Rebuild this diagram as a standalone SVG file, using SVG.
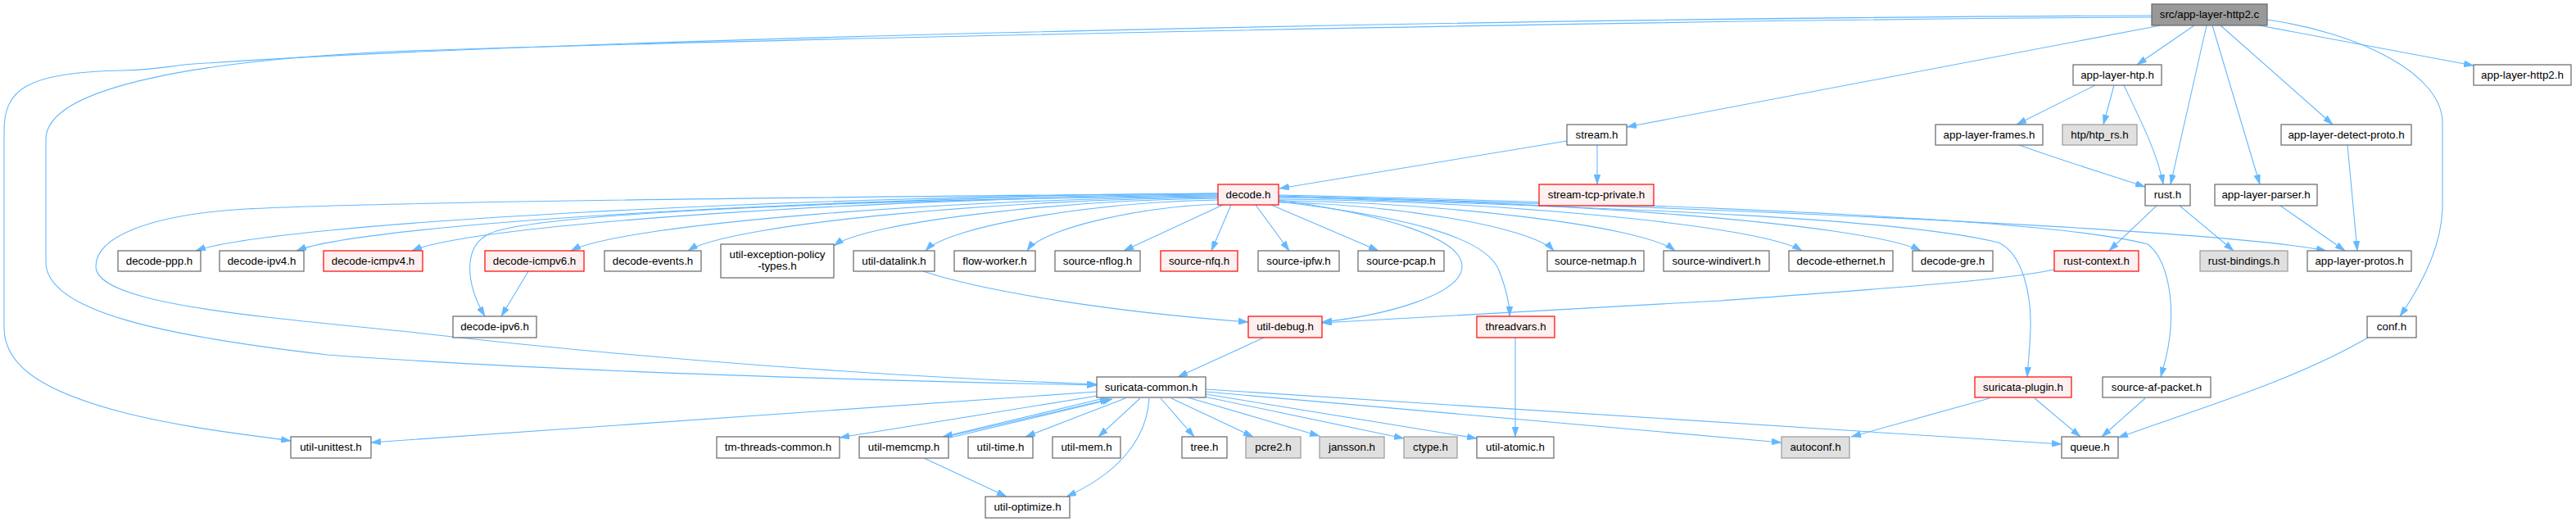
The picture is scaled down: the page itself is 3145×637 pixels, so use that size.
<svg xmlns="http://www.w3.org/2000/svg" width="3145" height="637" viewBox="0 0 3145 637">
<style>
.n rect{fill:#ffffff;stroke:#666666;stroke-width:1.2}
.g rect{fill:#e0e0e0;stroke:#999999;stroke-width:1.2}
.r rect{fill:#fff0f0;stroke:#ff0000;stroke-width:1.2}
.root rect{fill:#999999;stroke:#666666;stroke-width:1.2}
text{font-family:"Liberation Sans",Arial,sans-serif;font-size:13.33px;text-anchor:middle;fill:#000000}
#edges path{fill:none;stroke:#63b8ff;stroke-width:1.1;marker-end:url(#a)}
</style>
<defs>
<marker id="a" markerUnits="userSpaceOnUse" markerWidth="12" markerHeight="8" refX="12" refY="4" orient="auto" viewBox="0 0 12 8">
<path d="M0,0 L12,4 L0,8 z" fill="#63b8ff" stroke="#63b8ff" stroke-width="0.5"/>
</marker>
</defs>
<rect x="0" y="0" width="3145" height="637" fill="#ffffff"/>
<g id="edges">
<path d="M2627,19 C1900,22 700,45 224,79 C200,82 190,85 150,86 C30,88 5,110 5,160 L5,400 C5,450 60,480 153,504 C230,523 300,530 355,538"/>
<path d="M2627,21 C1900,25 800,52 500,62 C250,72 56,105 56,170 L56,320 C56,380 200,410 400,433 C700,455 1100,465 1339,470"/>
<path d="M2638,31 L1986,155"/>
<path d="M2679,31 L2609,79"/>
<path d="M2694,31 L2650,225"/>
<path d="M2701,31 L2759,225"/>
<path d="M2711,31 L2848,152"/>
<path d="M2758,31 L3020,80"/>
<path d="M2768,24 C2880,40 2982,90 2982,150 L2982,250 C2982,300 2955,350 2930,386"/>
<path d="M1913,172 L1562,230"/>
<path d="M1950,177 L1950,225"/>
<path d="M2558,104 L2462,152"/>
<path d="M2581,104 L2568,152"/>
<path d="M2593,104 C2615,150 2635,190 2641,225"/>
<path d="M2465,177 C2530,200 2580,215 2619,228"/>
<path d="M2866,177 L2878,306"/>
<path d="M2784,251 L2863,306"/>
<path d="M2633,251 L2575,306"/>
<path d="M2661,251 L2727,306"/>
<path d="M2508,329 C2440,343 2300,352 2100,367 L1614,394"/>
<path d="M1487,236 C1100,240 500,245 300,255 C180,262 117,290 117,325 C117,370 300,385 500,405 C800,440 1100,460 1339,469"/>
<path d="M1487,236 C988,239 340,271 239,306"/>
<path d="M1487,237 C1037,240 452,271 362,306"/>
<path d="M1487,238 C1093,241 582,272 503,306"/>
<path d="M1487,239 C1000,244 650,262 598,285 C565,300 568,345 592,386"/>
<path d="M1487,240 C1171,242 760,273 697,306"/>
<path d="M1487,241 C1228,243 892,273 840,306"/>
<path d="M1487,242 C1299,244 1056,271 1018,300"/>
<path d="M1487,244 C1344,246 1159,275 1130,306"/>
<path d="M1490,249 C1394,252 1273,278 1254,306"/>
<path d="M1493,250 L1372,306"/>
<path d="M1503,250 L1479,306"/>
<path d="M1533,250 L1574,306"/>
<path d="M1552,250 L1683,306"/>
<path d="M1561,247 C1695,249 1870,276 1897,306"/>
<path d="M1561,245 C1755,247 2006,275 2045,306"/>
<path d="M1561,243 C1817,245 2149,274 2200,306"/>
<path d="M1561,241 C1875,243 2282,273 2345,306"/>
<path d="M1561,239 C2000,250 2700,278 2840,306"/>
<path d="M1561,240 C1900,252 2300,262 2440,296 C2470,310 2480,360 2479,400 C2478,430 2476,445 2475,460"/>
<path d="M1561,238 C2000,248 2500,265 2622,298 C2645,315 2653,360 2650,400 C2648,430 2642,445 2638,460"/>
<path d="M1561,244 C1690,262 1785,290 1785,325 C1785,360 1690,385 1614,393"/>
<path d="M1561,246 C1720,265 1815,290 1830,330 C1838,350 1843,370 1843,386"/>
<path d="M645,331 L612,386"/>
<path d="M1127,331 C1200,355 1350,380 1524,393"/>
<path d="M1543,412 L1438,460"/>
<path d="M1850,412 L1850,533"/>
<path d="M1339,478 L453,540"/>
<path d="M1340,483 L1025,534"/>
<path d="M1348,486 L1151,533"/>
<path d="M1155,533 L1355,487"/>
<path d="M1160,534 L1358,487"/>
<path d="M1374,486 L1252,533"/>
<path d="M1392,486 L1341,533"/>
<path d="M1403,486 C1400,540 1360,580 1302,606"/>
<path d="M1417,486 L1458,533"/>
<path d="M1430,486 L1530,533"/>
<path d="M1450,485 L1611,532"/>
<path d="M1470,484 L1714,535"/>
<path d="M1472,481 L1803,535"/>
<path d="M1472,478 L2175,540"/>
<path d="M1472,475 L2517,542"/>
<path d="M2429,486 L2260,533"/>
<path d="M2484,486 L2540,533"/>
<path d="M2619,486 L2566,533"/>
<path d="M2891,412 C2800,465 2680,500 2586,534"/>
<path d="M1128,559 L1229,606"/>
</g>
<g id="root" class="root"><rect x="2627" y="5" width="141" height="26"/><text x="2697.5" y="22">src/app-layer-http2.c</text></g>
<g id="n_app_layer_htp" class="n"><rect x="2531" y="79" width="108" height="25"/><text x="2585" y="96">app-layer-htp.h</text></g>
<g id="n_app_layer_http2_h" class="n"><rect x="3020" y="79" width="119" height="25"/><text x="3079.5" y="96">app-layer-http2.h</text></g>
<g id="n_app_layer_frames" class="n"><rect x="2363" y="152" width="131" height="25"/><text x="2428.5" y="169">app-layer-frames.h</text></g>
<g id="n_htp_rs" class="g"><rect x="2518" y="152" width="91" height="25"/><text x="2563.5" y="169">htp/htp_rs.h</text></g>
<g id="n_detect_proto" class="n"><rect x="2785" y="152" width="159" height="25"/><text x="2864.5" y="169">app-layer-detect-proto.h</text></g>
<g id="n_stream" class="n"><rect x="1913" y="152" width="73" height="25"/><text x="1949.5" y="169">stream.h</text></g>
<g id="n_decode" class="r"><rect x="1487" y="225" width="74" height="25"/><text x="1524" y="242">decode.h</text></g>
<g id="n_stream_tcp_private" class="r"><rect x="1879" y="225" width="140" height="26"/><text x="1949" y="242">stream-tcp-private.h</text></g>
<g id="n_rust" class="n"><rect x="2619" y="225" width="55" height="26"/><text x="2646.5" y="242">rust.h</text></g>
<g id="n_parser" class="n"><rect x="2704" y="225" width="125" height="26"/><text x="2766.5" y="242">app-layer-parser.h</text></g>
<g id="n_ppp" class="n"><rect x="144" y="306" width="101" height="25"/><text x="194.5" y="323">decode-ppp.h</text></g>
<g id="n_ipv4" class="n"><rect x="268" y="306" width="103" height="25"/><text x="319.5" y="323">decode-ipv4.h</text></g>
<g id="n_icmpv4" class="r"><rect x="395" y="306" width="121" height="25"/><text x="455.5" y="323">decode-icmpv4.h</text></g>
<g id="n_icmpv6" class="r"><rect x="592" y="306" width="121" height="25"/><text x="652.5" y="323">decode-icmpv6.h</text></g>
<g id="n_events" class="n"><rect x="738" y="306" width="118" height="25"/><text x="797" y="323">decode-events.h</text></g>
<g id="n_exception" class="n"><rect x="880" y="298" width="138" height="41"/><text x="949" y="314.5">util-exception-policy</text><text x="949" y="328.5">-types.h</text></g>
<g id="n_datalink" class="n"><rect x="1042" y="306" width="99" height="25"/><text x="1091.5" y="323">util-datalink.h</text></g>
<g id="n_flow_worker" class="n"><rect x="1165" y="306" width="99" height="25"/><text x="1214.5" y="323">flow-worker.h</text></g>
<g id="n_nflog" class="n"><rect x="1288" y="306" width="104" height="25"/><text x="1340" y="323">source-nflog.h</text></g>
<g id="n_nfq" class="r"><rect x="1417" y="306" width="94" height="25"/><text x="1464" y="323">source-nfq.h</text></g>
<g id="n_ipfw" class="n"><rect x="1536" y="306" width="99" height="25"/><text x="1585.5" y="323">source-ipfw.h</text></g>
<g id="n_pcap" class="n"><rect x="1658" y="306" width="105" height="25"/><text x="1710.5" y="323">source-pcap.h</text></g>
<g id="n_netmap" class="n"><rect x="1889" y="306" width="118" height="25"/><text x="1948" y="323">source-netmap.h</text></g>
<g id="n_windivert" class="n"><rect x="2031" y="306" width="129" height="25"/><text x="2095.5" y="323">source-windivert.h</text></g>
<g id="n_ethernet" class="n"><rect x="2184" y="306" width="127" height="25"/><text x="2247.5" y="323">decode-ethernet.h</text></g>
<g id="n_gre" class="n"><rect x="2335" y="306" width="98" height="25"/><text x="2384" y="323">decode-gre.h</text></g>
<g id="n_rust_context" class="r"><rect x="2508" y="306" width="103" height="25"/><text x="2559.5" y="323">rust-context.h</text></g>
<g id="n_rust_bindings" class="g"><rect x="2686" y="306" width="107" height="25"/><text x="2739.5" y="323">rust-bindings.h</text></g>
<g id="n_protos" class="n"><rect x="2817" y="306" width="127" height="25"/><text x="2880.5" y="323">app-layer-protos.h</text></g>
<g id="n_ipv6" class="n"><rect x="553" y="386" width="102" height="26"/><text x="604" y="403">decode-ipv6.h</text></g>
<g id="n_util_debug" class="r"><rect x="1524" y="386" width="90" height="26"/><text x="1569" y="403">util-debug.h</text></g>
<g id="n_threadvars" class="r"><rect x="1803" y="386" width="95" height="26"/><text x="1850.5" y="403">threadvars.h</text></g>
<g id="n_conf" class="n"><rect x="2890" y="386" width="60" height="26"/><text x="2920" y="403">conf.h</text></g>
<g id="n_suricata_common" class="n"><rect x="1339" y="460" width="133" height="25"/><text x="1405.5" y="477">suricata-common.h</text></g>
<g id="n_suricata_plugin" class="r"><rect x="2411" y="460" width="118" height="25"/><text x="2470" y="477">suricata-plugin.h</text></g>
<g id="n_af_packet" class="n"><rect x="2567" y="460" width="132" height="25"/><text x="2633" y="477">source-af-packet.h</text></g>
<g id="n_unittest" class="n"><rect x="355" y="533" width="98" height="26"/><text x="404" y="550">util-unittest.h</text></g>
<g id="n_tm_threads" class="n"><rect x="875" y="533" width="150" height="26"/><text x="950" y="550">tm-threads-common.h</text></g>
<g id="n_memcmp" class="n"><rect x="1049" y="533" width="109" height="26"/><text x="1103.5" y="550">util-memcmp.h</text></g>
<g id="n_time" class="n"><rect x="1182" y="533" width="79" height="26"/><text x="1221.5" y="550">util-time.h</text></g>
<g id="n_mem" class="n"><rect x="1285" y="533" width="83" height="26"/><text x="1326.5" y="550">util-mem.h</text></g>
<g id="n_tree" class="n"><rect x="1443" y="533" width="55" height="26"/><text x="1470.5" y="550">tree.h</text></g>
<g id="n_pcre2" class="g"><rect x="1521" y="533" width="67" height="26"/><text x="1554.5" y="550">pcre2.h</text></g>
<g id="n_jansson" class="g"><rect x="1611" y="533" width="79" height="26"/><text x="1650.5" y="550">jansson.h</text></g>
<g id="n_ctype" class="g"><rect x="1714" y="533" width="65" height="26"/><text x="1746.5" y="550">ctype.h</text></g>
<g id="n_atomic" class="n"><rect x="1803" y="533" width="94" height="26"/><text x="1850" y="550">util-atomic.h</text></g>
<g id="n_autoconf" class="g"><rect x="2175" y="533" width="83" height="26"/><text x="2216.5" y="550">autoconf.h</text></g>
<g id="n_queue" class="n"><rect x="2517" y="533" width="69" height="26"/><text x="2551.5" y="550">queue.h</text></g>
<g id="n_optimize" class="n"><rect x="1203" y="606" width="103" height="26"/><text x="1254.5" y="623">util-optimize.h</text></g>
</svg>
